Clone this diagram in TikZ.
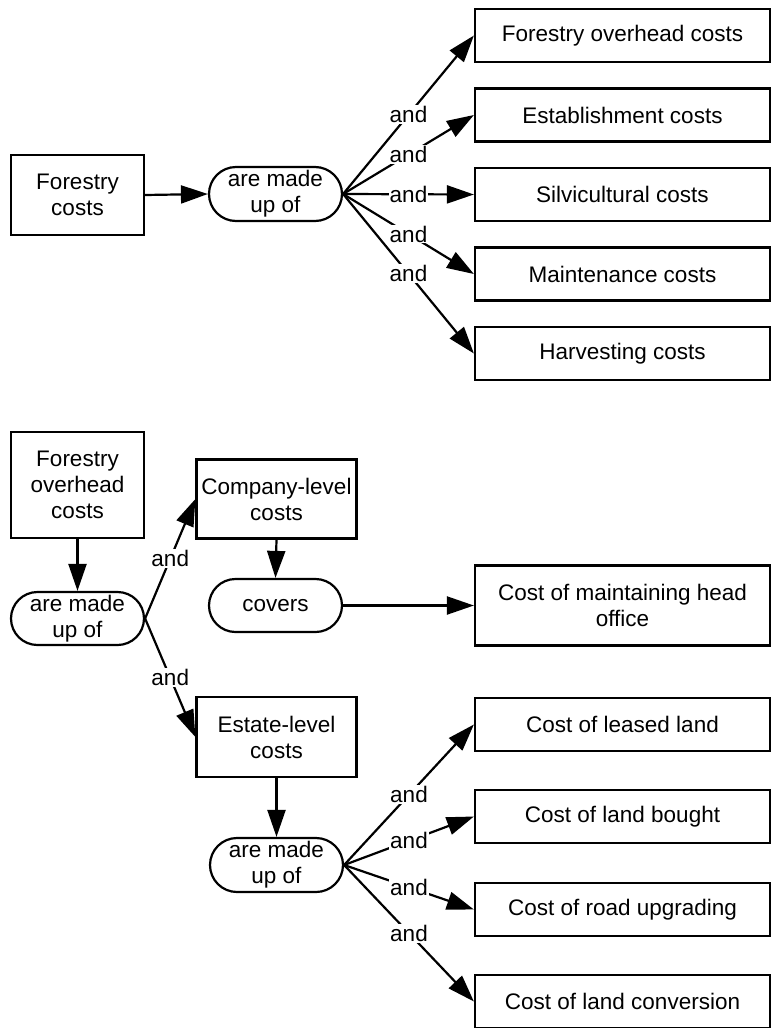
\documentclass[tikz,border=0pt]{standalone}
\usepackage{fontspec}
\setmainfont{Liberation Sans}
\usetikzlibrary{arrows.meta,shapes.misc}
\begin{document}
\begin{tikzpicture}[x=1pt,y=-1pt,
  every node/.style={font=\fontsize{22.5}{26}\selectfont},
  box/.style={draw,line width=2.2pt,rectangle,align=center,inner sep=0pt},
  pill/.style={draw,line width=2.2pt,rounded rectangle,align=center,inner sep=0pt,
               minimum width=133pt,minimum height=54pt},
  wide/.style={box,minimum width=295pt,minimum height=53pt},
  link/.style={line width=2.2pt,-{Triangle[length=27pt,width=18pt]}},
  andlbl/.style={fill=white,inner sep=1pt}]
\useasboundingbox (0,0) rectangle (771,1028);

% top group: forestry costs
\node[box,minimum width=133pt,minimum height=80pt] (fc) at (77.5,195) {Forestry\\costs};
\node[pill] (m1) at (275.5,194) {are made\\up of};
\node[wide] (r1) at (622.5,35.5)  {Forestry overhead costs};
\node[wide] (r2) at (622.5,115)   {Establishment costs};
\node[wide] (r3) at (622.5,194.5) {Silvicultural costs};
\node[wide] (r4) at (622.5,274)   {Maintenance costs};
\node[wide] (r5) at (622.5,353.5) {Harvesting costs};

\draw[link] (fc.east) -- (m1.west);
\foreach \t in {r1,r2,r3,r4,r5}
  \draw[link] (m1.east) -- node[andlbl] {and} (\t.west);

% bottom group: forestry overhead costs
\node[box,minimum width=133pt,minimum height=106pt] (foc) at (77.5,485) {Forestry\\overhead\\costs};
\node[pill,minimum height=53pt] (m2) at (77.5,618.5) {are made\\up of};
\node[box,minimum width=160pt,minimum height=79pt] (comp) at (276.5,499) {Company-level\\costs};
\node[pill,minimum height=53pt] (cov) at (275.5,605.5) {covers};
\node[wide,minimum height=80pt] (head) at (622.5,605.5) {Cost of maintaining head\\office};
\node[box,minimum width=160pt,minimum height=80pt] (est) at (276.5,737) {Estate-level\\costs};
\node[pill] (m3) at (276.5,865) {are made\\up of};
\node[wide] (b1) at (622.5,724.5)  {Cost of leased land};
\node[wide] (b2) at (622.5,816.5)  {Cost of land bought};
\node[wide] (b3) at (622.5,909.5)  {Cost of road upgrading};
\node[wide] (b4) at (622.5,1001.5) {Cost of land conversion};

\draw[link] (foc.south) -- (m2.north);
\draw[link] (m2.east) -- node[andlbl] {and} (comp.west);
\draw[link] (m2.east) -- node[andlbl] {and} (est.west);
\draw[link] (comp.south) -- (cov.north);
\draw[link] (cov.east) -- (head.west);
\draw[link] (est.south) -- (m3.north);
\foreach \t in {b1,b2,b3,b4}
  \draw[link] (m3.east) -- node[andlbl] {and} (\t.west);
\end{tikzpicture}
\end{document}
